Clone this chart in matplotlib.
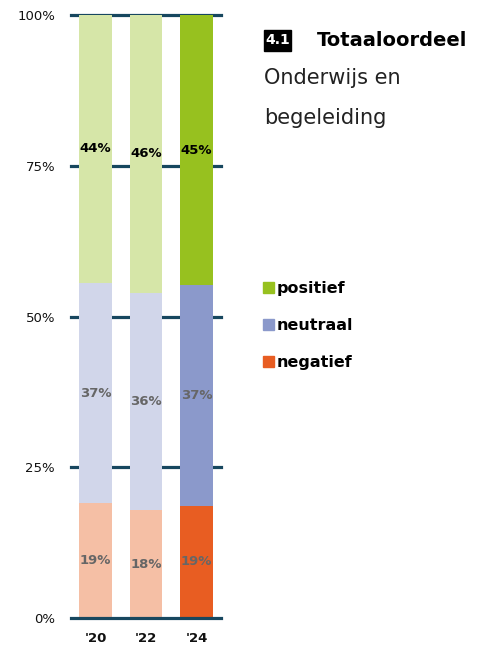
import matplotlib
matplotlib.use("Agg")
import matplotlib.pyplot as plt
from matplotlib.patches import Rectangle

years = ["'20", "'22", "'24"]
negatief = [19.0, 17.9, 18.6]
neutraal = [36.6, 36.0, 36.6]
positief = [44.4, 46.1, 44.8]
yticks = [0, 25, 50, 75, 100]
ytick_labels = ["0%", "25%", "50%", "75%", "100%"]

light = {"pos": "#d6e6a8", "neu": "#d1d6ea", "neg": "#f5bfa5"}
dark = {"pos": "#97c11f", "neu": "#8b99cb", "neg": "#e85d22"}
grid_c = "#17475f"
FONT = "DejaVu Sans"

fig = plt.figure(figsize=(4.81, 6.48), dpi=100)
ax = fig.add_axes([71/481, 1-618/648, 150/481, (618-15)/648])
ax.set_xlim(-0.485, 2.485)
ax.set_ylim(0, 100)
for s in ax.spines.values():
    s.set_visible(False)
ax.tick_params(length=0)
ax.set_yticks(yticks)
ax.set_yticklabels(ytick_labels, fontsize=9.5, family=FONT, color="#111111")
ax.tick_params(axis="y", pad=11.5)
ax.set_xticks(range(len(years)))
ax.set_xticklabels(years, fontsize=9.5, fontweight="bold", family=FONT, color="#111111")
ax.tick_params(axis="x", pad=10)

for t in yticks:
    ax.axhline(t, color=grid_c, lw=2.3, zorder=1 if t != 0 else 5, clip_on=False)

w = 0.653
x = list(range(len(years)))
for i in x:
    cols = dark if i == len(years) - 1 else light
    ax.bar(i, negatief[i], width=w, color=cols["neg"], zorder=2)
    ax.bar(i, neutraal[i], width=w, bottom=negatief[i], color=cols["neu"], zorder=2)
    ax.bar(i, positief[i], width=w, bottom=negatief[i]+neutraal[i], color=cols["pos"], zorder=2)
    ax.text(i, negatief[i]/2, f"{round(negatief[i])}%", ha="center", va="center",
            fontsize=9.5, fontweight="bold", color="#666666", family=FONT, zorder=6)
    ax.text(i, negatief[i]+neutraal[i]/2, f"{round(neutraal[i])}%", ha="center", va="center",
            fontsize=9.5, fontweight="bold", color="#666666", family=FONT, zorder=6)
    ax.text(i, negatief[i]+neutraal[i]+positief[i]/2, f"{round(positief[i])}%", ha="center", va="center",
            fontsize=9.5, fontweight="bold", color="#000000", family=FONT, zorder=6)

# title block
fig.patches.append(Rectangle((264/481, 1-51/648), 27/481, 21/648, transform=fig.transFigure,
                             color="black", zorder=3))
fig.text(277.5/481, 1-40.5/648, "4.1", ha="center", va="center", color="white",
         fontsize=10, fontweight="bold", family=FONT, zorder=4)
fig.text(317/481, 1-40/648, "Totaaloordeel", ha="left", va="center", color="black",
         fontsize=14, fontweight="bold", family=FONT)
fig.text(264/481, 1-78/648, "Onderwijs en", ha="left", va="center", color="#222222",
         fontsize=15, family=FONT)
fig.text(264/481, 1-118/648, "begeleiding", ha="left", va="center", color="#222222",
         fontsize=15, family=FONT)

# legend
leg_items = [("positief", dark["pos"], 288), ("neutraal", dark["neu"], 325), ("negatief", dark["neg"], 362)]
for label, c, yy in leg_items:
    fig.patches.append(Rectangle((263/481, 1-(yy+5)/648), 11/481, 11/648,
                                 transform=fig.transFigure, color=c))
    fig.text(277/481, 1-yy/648, label, ha="left", va="center", color="black",
             fontsize=11.5, fontweight="bold", family=FONT)

fig.savefig("out.png", dpi=100)
